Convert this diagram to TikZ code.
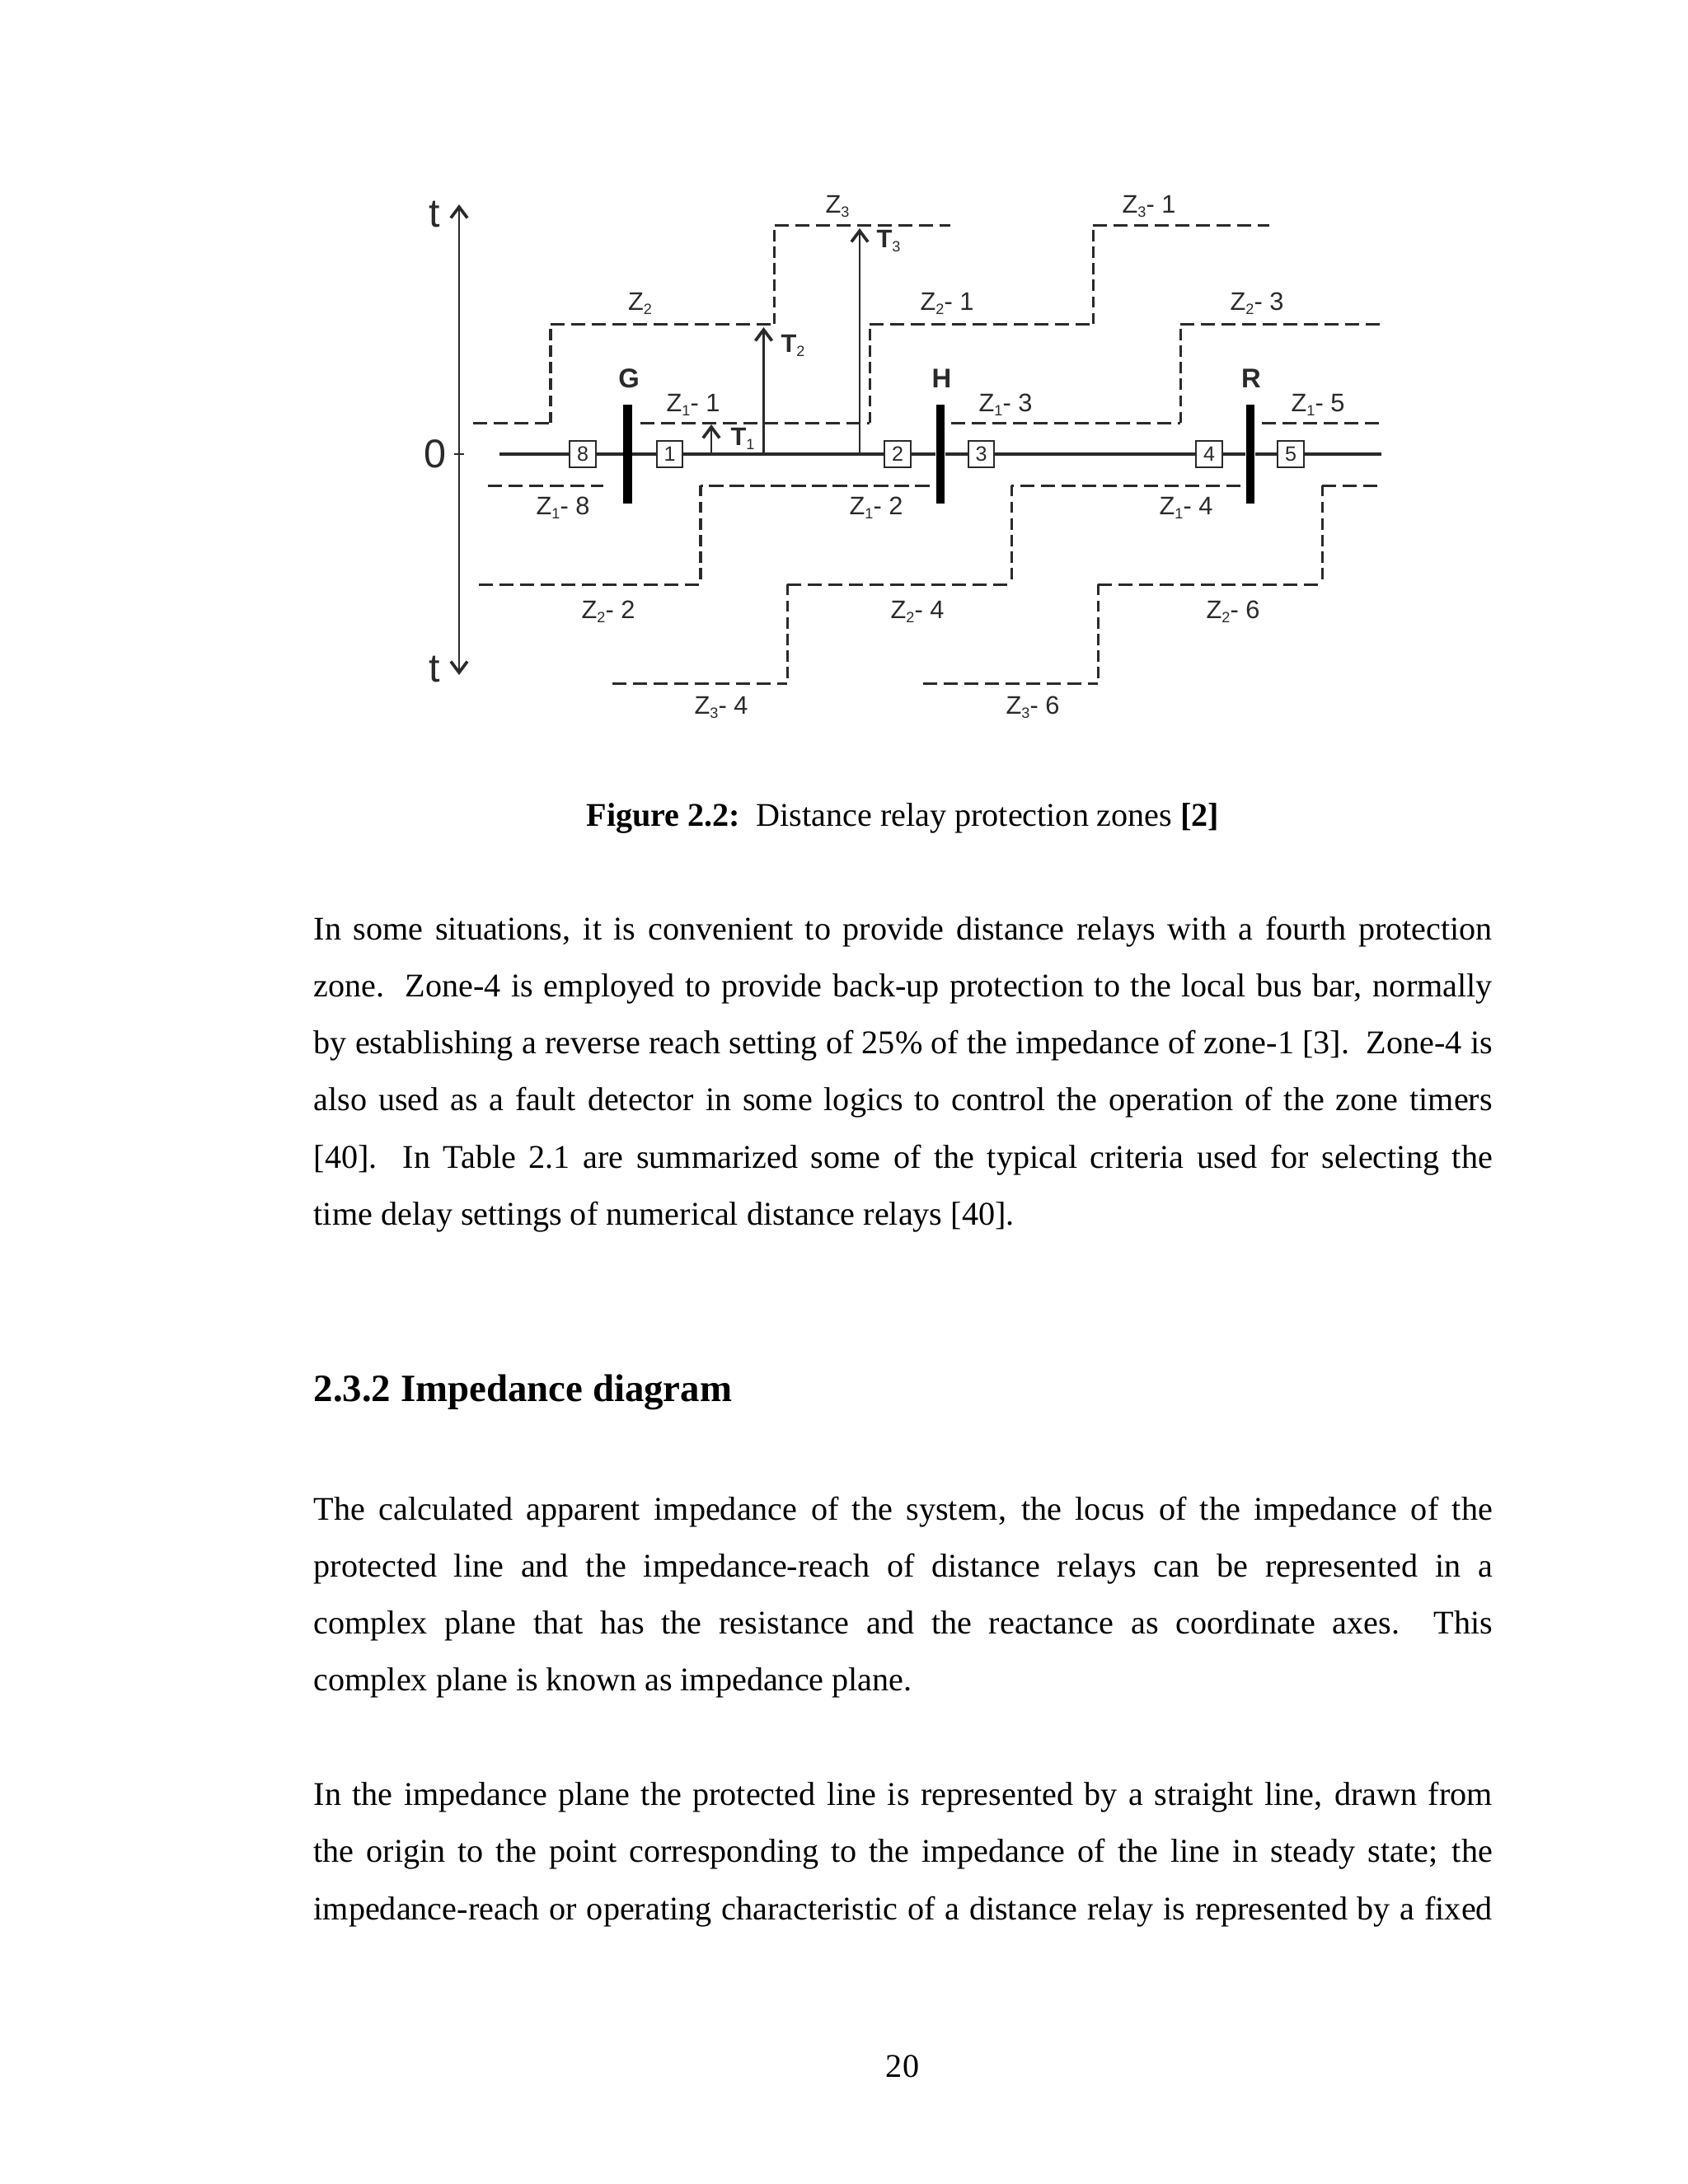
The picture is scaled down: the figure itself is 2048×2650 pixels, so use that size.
\documentclass[tikz,border=0pt]{standalone}
\usepackage{fontspec}
\setmainfont{Liberation Serif}
\newfontfamily\dfont{Liberation Sans}
\usetikzlibrary{arrows.meta}
\definecolor{ink}{HTML}{2A2A2A}
\newcommand{\Zs}[1]{Z\raisebox{-1.7pt}{\fontsize{5.4}{5}\selectfont #1}}
\newcommand{\Ts}[1]{{\bfseries T}\raisebox{-1.7pt}{\fontsize{5.4}{5}\selectfont #1}}
\tikzset{
  lab/.style={anchor=base west,inner sep=0pt,font=\dfont\fontsize{9.2}{10}\selectfont,text=ink},
  big/.style={anchor=base west,inner sep=0pt,font=\dfont\fontsize{14.5}{15}\selectfont,text=ink},
  bus/.style={anchor=base,inner sep=0pt,font=\dfont\bfseries\fontsize{9.8}{10}\selectfont,text=ink},
  relay/.style={draw=ink,fill=white,line width=0.7pt,minimum width=9.4pt,minimum height=9.6pt,inner sep=0pt,font=\dfont\fontsize{7.5}{8}\selectfont,text=ink},
  busbar/.style={fill=black,draw=none,minimum width=3pt,minimum height=35.8pt,inner sep=0pt},
  main/.style={draw=ink,line width=1.15pt},
  axis/.style={draw=ink,line width=0.85pt},
  timer/.style={draw=ink,line width=0.75pt,-{Straight Barb[length=4pt,width=6pt,line width=1.1pt]}},
  dh/.style={draw=ink,line width=0.9pt,dash pattern=on 5.2pt off 2.27pt},
  dv/.style={draw=ink,line width=0.9pt,dash pattern=on 4pt off 2pt},
  txt/.style={anchor=base west,inner sep=0pt,font=\fontsize{12}{14}\selectfont,text=black},
}
\newcommand{\jl}[4]{\node[txt] (#1) at (380,#2) {\makebox[#3][s]{#4}};}
\begin{document}
\begin{tikzpicture}[x=0.2988pt,y=-0.2988pt]
\useasboundingbox (0,0) rectangle (2048,2650);
\fill[white] (0,0) rectangle (2048,2650);
% axis
\coordinate (axT) at (557,248); \coordinate (axB) at (557,819);
\coordinate (tkL) at (551,551); \coordinate (tkR) at (563,551);
\draw[axis,{Straight Barb[length=4pt,width=6pt,line width=1.1pt]}-{Straight Barb[length=4pt,width=6pt,line width=1.1pt]}] (axT) -- (axB);
\draw[axis] (tkL) -- (tkR);
\node[big] (tTop) at (520,275) {t};
\node[big] (tBot) at (520,827) {t};
\node[big] (zero) at (514,567) {0};
% dashed zones
\foreach \n/\x/\y in {a1/574/513,a2/668/513,a3/668/393,a4/939.5/393,a5/939.5/273,a6/1153/273,
 b1/776.5/513,b2/1055/513,b3/1055/393,b4/1326/393,b5/1326/273,b6/1539.5/273,
 c1/1154/513,c2/1432/513,c3/1432/393,c4/1676/393,
 d1/1531/513,d2/1676/513,
 e1/592/589,e2/731.5/589,
 f1/581/709,f2/850/709,f3/850/589,f4/1127.5/589,
 g1/743/829,g2/955/829,g3/955/709,g4/1227/709,g5/1227/589,g6/1505/589,
 h1/1119.5/829,h2/1332/829,h3/1332/709,h4/1604/709,h5/1604/589,h6/1676/589}
  {\coordinate (\n) at (\x,\y);}
\draw[dh] (a1)--(a2); \draw[dv] (a2)--(a3); \draw[dh] (a3)--(a4); \draw[dv] (a4)--(a5); \draw[dh] (a5)--(a6);
\draw[dh] (b1)--(b2); \draw[dv] (b2)--(b3); \draw[dh] (b3)--(b4); \draw[dv] (b4)--(b5); \draw[dh] (b5)--(b6);
\draw[dh] (c1)--(c2); \draw[dv] (c2)--(c3); \draw[dh] (c3)--(c4);
\draw[dh] (d1)--(d2);
\draw[dh] (e1)--(e2);
\draw[dh] (f1)--(f2); \draw[dv] (f3)--(f2); \draw[dh] (f4)--(f3);
\draw[dh] (g1)--(g2); \draw[dv] (g3)--(g2); \draw[dh] (g3)--(g4); \draw[dv] (g5)--(g4); \draw[dh] (g6)--(g5);
\draw[dh] (h1)--(h2); \draw[dv] (h3)--(h2); \draw[dh] (h3)--(h4); \draw[dv] (h5)--(h4); \draw[dh] (h5)--(h6);
% buses and relays
\node[busbar] (G) at (761.5,551) {};
\node[busbar] (H) at (1141,551) {};
\node[busbar] (R) at (1517,551) {};
\node[relay] (r8) at (707,551) {8};
\node[relay] (r1) at (812.5,551) {1};
\node[relay] (r2) at (1089,551) {2};
\node[relay] (r3) at (1190.5,551) {3};
\node[relay] (r4) at (1467,551) {4};
\node[relay] (r5) at (1566,551) {5};
\coordinate (mlL) at (606,551); \coordinate (mlR) at (1676,551);
\draw[main] (mlL)--(r8); \draw[main] (r8)--(G); \draw[main] (G)--(r1); \draw[main] (r1)--(r2);
\draw[main] (r2)--(H); \draw[main] (H)--(r3); \draw[main] (r3)--(r4); \draw[main] (r4)--(R);
\draw[main] (R)--(r5); \draw[main] (r5)--(mlR);
% timers
\coordinate (t1a) at (863,551); \coordinate (t1b) at (863,515);
\coordinate (t2a) at (926.5,551); \coordinate (t2b) at (926.5,397);
\coordinate (t3a) at (1043,551); \coordinate (t3b) at (1043,277);
\draw[timer] (t1a)--(t1b); \draw[timer] (t2a)--(t2b); \draw[timer] (t3a)--(t3b);
\node[lab] (T1) at (886,540) {\Ts{1}};
\node[lab] (T2) at (947,427) {\Ts{2}};
\node[lab] (T3) at (1063,300) {\Ts{3}};
% bus names
\node[bus] (nG) at (763,470) {G};
\node[bus] (nH) at (1142.5,470) {H};
\node[bus] (nR) at (1518,470) {R};
% zone labels
\node[lab] (l1) at (1001,258) {\Zs{3}};
\node[lab] (l2) at (1361,258) {\Zs{3}- 1};
\node[lab] (l3) at (761.5,376) {\Zs{2}};
\node[lab] (l4) at (1116,376) {\Zs{2}- 1};
\node[lab] (l5) at (1492,376) {\Zs{2}- 3};
\node[lab] (l6) at (808,499) {\Zs{1}- 1};
\node[lab] (l7) at (1187,499) {\Zs{1}- 3};
\node[lab] (l8) at (1566,499) {\Zs{1}- 5};
\node[lab] (l9) at (650,624) {\Zs{1}- 8};
\node[lab] (l10) at (1030,624) {\Zs{1}- 2};
\node[lab] (l11) at (1406,624) {\Zs{1}- 4};
\node[lab] (l12) at (705,750) {\Zs{2}- 2};
\node[lab] (l13) at (1080,750) {\Zs{2}- 4};
\node[lab] (l14) at (1463,750) {\Zs{2}- 6};
\node[lab] (l15) at (842,866) {\Zs{3}- 4};
\node[lab] (l16) at (1220,866) {\Zs{3}- 6};
% page text
\node[txt] (cap) at (711,1002) {\makebox[229.3pt][s]{\bfseries Figure 2.2:\ \ \mdseries Distance relay protection zones \bfseries [2]}};
\jl{p1}{1140}{427.3pt}{In some situations, it is convenient to provide distance relays with a fourth protection}
\jl{p2}{1209.3}{427.3pt}{zone.\ \ Zone-4 is employed to provide back-up protection to the local bus bar, normally}
\jl{p3}{1278.6}{427.3pt}{by establishing a reverse reach setting of 25\% of the impedance of zone-1 [3].\ \ Zone-4 is}
\jl{p4}{1347.9}{427.3pt}{also used as a fault detector in some logics to control the operation of the zone timers}
\jl{p5}{1417.2}{427.3pt}{[40].\ \ In Table 2.1 are summarized some of the typical criteria used for selecting the}
\node[txt] (p6) at (380,1486.5) {time delay settings of numerical distance relays [40].};
\node[txt,font=\fontsize{14}{16}\selectfont\bfseries] (head) at (380,1700) {2.3.2 Impedance diagram};
\jl{q1}{1844}{427.3pt}{The calculated apparent impedance of the system, the locus of the impedance of the}
\jl{q2}{1913.3}{427.3pt}{protected line and the impedance-reach of distance relays can be represented in a}
\jl{q3}{1982.6}{427.3pt}{complex plane that has the resistance and the reactance as coordinate axes.\ \ This}
\node[txt] (q4) at (380,2051.9) {complex plane is known as impedance plane.};
\jl{s1}{2190.5}{427.3pt}{In the impedance plane the protected line is represented by a straight line, drawn from}
\jl{s2}{2259.8}{427.3pt}{the origin to the point corresponding to the impedance of the line in steady state; the}
\jl{s3}{2329.1}{427.3pt}{impedance-reach or operating characteristic of a distance relay is represented by a fixed}
\node[txt,anchor=base] (pg) at (1095,2520) {20};
\end{tikzpicture}
\end{document}
